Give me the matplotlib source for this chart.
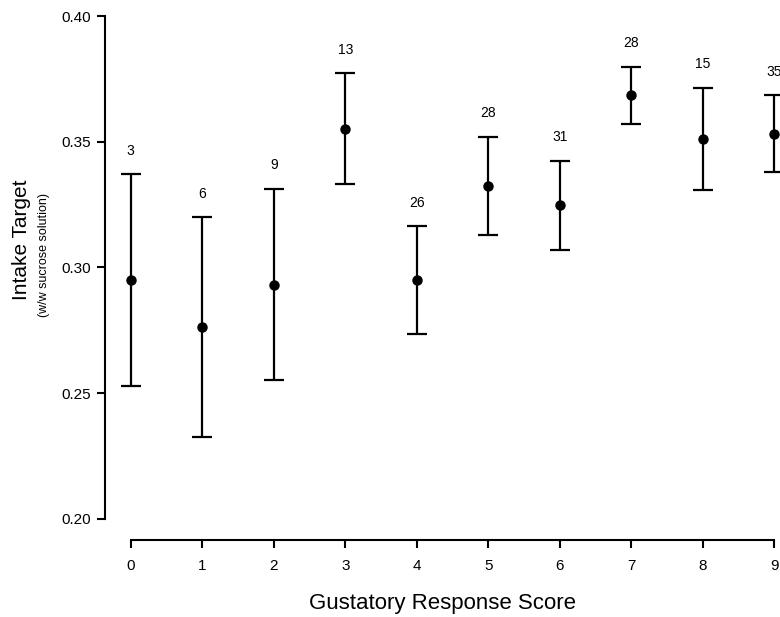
import matplotlib
matplotlib.use("Agg")
import matplotlib.pyplot as plt

plt.rcParams['font.family'] = ['Liberation Sans', 'DejaVu Sans']

scores = [0, 1, 2, 3, 4, 5, 6, 7, 8, 9]
means = [0.2949, 0.2762, 0.2932, 0.3552, 0.2949, 0.3325, 0.3247, 0.3685, 0.3512, 0.3532]
upper = [0.3371, 0.3199, 0.3314, 0.3772, 0.3164, 0.3521, 0.3423, 0.3797, 0.3715, 0.3685]
lower = [0.2529, 0.2324, 0.2551, 0.3332, 0.2734, 0.3129, 0.3069, 0.3572, 0.3308, 0.3378]
counts = [3, 6, 9, 13, 26, 28, 31, 28, 15, 35]
yticks = [0.20, 0.25, 0.30, 0.35, 0.40]
ytick_labels = ["0.20", "0.25", "0.30", "0.35", "0.40"]

fig = plt.figure(figsize=(7.8, 6.17), dpi=100)
ax = fig.add_axes([105 / 780, 77 / 617, 1 - 105 / 780, 1 - 77 / 617])

err_lo = [m - lo for m, lo in zip(means, lower)]
err_hi = [hi - m for m, hi in zip(means, upper)]
ax.errorbar(scores, means, yerr=[err_lo, err_hi], fmt='o', color='black',
            markersize=6.5, elinewidth=1.6, capsize=7.5, capthick=1.6, clip_on=False)

for x, hi, n in zip(scores, upper, counts):
    ax.annotate(str(n), (x, hi), xytext=(0, 12), textcoords='offset points',
                ha='center', va='bottom', fontsize=10, annotation_clip=False)

ax.set_xlim(-0.36, 9.08)
ax.set_ylim(0.1916, 0.4064)

for side in ['top', 'right']:
    ax.spines[side].set_visible(False)
ax.spines['left'].set_bounds(0.20, 0.40)
ax.spines['bottom'].set_bounds(0, 9)
for side in ['left', 'bottom']:
    ax.spines[side].set_linewidth(1.5)

ax.set_xticks(scores)
ax.set_xticklabels([str(s) for s in scores])
ax.set_yticks(yticks)
ax.set_yticklabels(ytick_labels)
ax.tick_params(axis='both', length=6, width=1.5, labelsize=11, direction='out')
ax.tick_params(axis='x', pad=8)
ax.tick_params(axis='y', pad=4)

ax.set_xlabel("Gustatory Response Score", fontsize=16, labelpad=14)
fig.text(22 / 780, 1 - 240 / 617, "Intake Target", rotation=90,
         ha='center', va='center', fontsize=15)
fig.text(44 / 780, 1 - 255 / 617, "(w/w sucrose solution)", rotation=90,
         ha='center', va='center', fontsize=9)

fig.savefig("out.png", dpi=100)
